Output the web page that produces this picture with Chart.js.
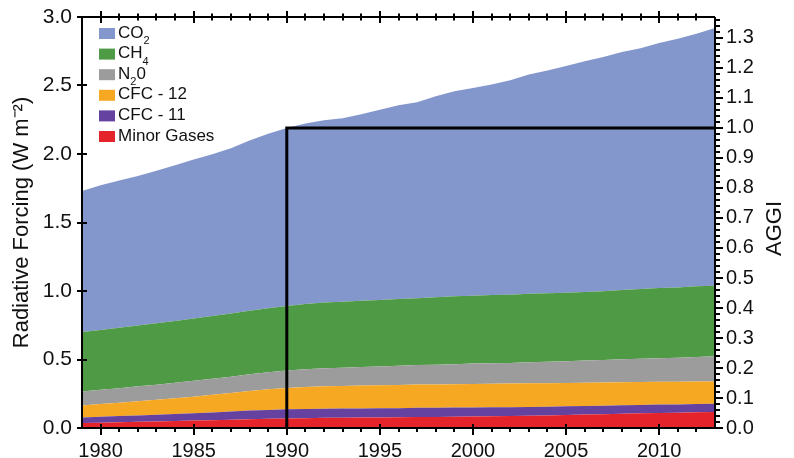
<!DOCTYPE html>
<html><head><meta charset="utf-8">
<script src="https://cdn.jsdelivr.net/npm/chart.js@4/dist/chart.umd.min.js"></script>
<style>html,body{margin:0;padding:0;background:#fff}#wrap{width:794px;height:458px;position:relative}</style>
</head><body><div id="wrap"><canvas id="c" width="794" height="458"></canvas></div>
<script>
// ---- data (W m-2) ----
const years = [1979,1980,1981,1982,1983,1984,1985,1986,1987,1988,1989,1990,1991,1992,1993,1994,1995,1996,1997,1998,1999,2000,2001,2002,2003,2004,2005,2006,2007,2008,2009,2010,2011,2012,2013];
const co2   = [1.030,1.055,1.075,1.090,1.113,1.137,1.160,1.182,1.207,1.242,1.273,1.300,1.318,1.330,1.340,1.362,1.388,1.414,1.430,1.468,1.497,1.515,1.537,1.565,1.600,1.627,1.655,1.684,1.709,1.737,1.758,1.789,1.816,1.844,1.881];
const ch4   = [0.433,0.437,0.441,0.445,0.448,0.451,0.455,0.458,0.461,0.464,0.467,0.470,0.476,0.480,0.481,0.484,0.486,0.487,0.488,0.492,0.495,0.496,0.497,0.498,0.500,0.500,0.500,0.501,0.503,0.506,0.509,0.511,0.513,0.515,0.516];
const n2o   = [0.102,0.104,0.106,0.108,0.110,0.112,0.115,0.117,0.119,0.122,0.125,0.128,0.130,0.132,0.133,0.135,0.137,0.140,0.142,0.144,0.146,0.148,0.150,0.151,0.154,0.156,0.159,0.161,0.164,0.167,0.170,0.173,0.176,0.180,0.183];
const cfc12 = [0.088,0.093,0.098,0.104,0.109,0.115,0.121,0.128,0.135,0.143,0.150,0.156,0.160,0.163,0.165,0.167,0.168,0.169,0.170,0.171,0.171,0.172,0.172,0.172,0.172,0.171,0.170,0.170,0.169,0.168,0.167,0.166,0.165,0.164,0.163];
const cfc11 = [0.041,0.043,0.045,0.047,0.049,0.052,0.054,0.057,0.060,0.063,0.065,0.066,0.067,0.067,0.067,0.067,0.067,0.067,0.067,0.066,0.066,0.066,0.065,0.065,0.064,0.064,0.063,0.063,0.062,0.062,0.061,0.061,0.060,0.060,0.060];
const minor = [0.036,0.039,0.042,0.045,0.048,0.051,0.054,0.057,0.060,0.064,0.067,0.070,0.072,0.074,0.075,0.076,0.077,0.078,0.080,0.081,0.083,0.084,0.086,0.087,0.090,0.092,0.095,0.098,0.101,0.104,0.107,0.110,0.112,0.115,0.117];

const legendNames = [['CO','2'],['CH','4'],['N','2','0'],['CFC - 12'],['CFC - 11'],['Minor Gases']];
const xTickLabels = [1980,1985,1990,1995,2000,2005,2010];
const leftTickLabels = [0,0.5,1.0,1.5,2.0,2.5,3.0];
const aggiTickLabels = [0,0.1,0.2,0.3,0.4,0.5,0.6,0.7,0.8,0.9,1.0,1.1,1.2,1.3];
const rightTitle = 'AGGI';
const baseYear = 1990;
const leftMax = 3.0;

const colors = {co2:'#8397cd', ch4:'#4f9a45', n2o:'#9c9c9c', cfc12:'#f6a823', cfc11:'#6542a0', minor:'#e5232a'};

const baseIdx = years.indexOf(baseYear);
const total1990 = co2[baseIdx]+ch4[baseIdx]+n2o[baseIdx]+cfc12[baseIdx]+cfc11[baseIdx]+minor[baseIdx];
const lastYear = years[years.length-1];

function pts(arr){ return arr.map((v,i)=>({x:years[i], y:v})); }
function area(label, arr, color, fill){
  return {label, data: pts(arr), backgroundColor: color, borderColor: color, borderWidth: 0,
    pointRadius: 0, fill, tension: 0, order: 1, stack: 'gas'};
}

const FONT = "'Liberation Sans', Arial, Helvetica, sans-serif";

const ticksPlugin = {
  id: 'ticksPlugin',
  afterDraw(chart){
    const {ctx, chartArea:a, scales} = chart;
    const x = scales.x, y = scales.y, y1 = scales.y1;
    ctx.save();
    ctx.strokeStyle = '#000';
    ctx.lineWidth = 2;
    // frame
    ctx.beginPath();
    ctx.moveTo(a.left, a.top); ctx.lineTo(a.right, a.top);
    ctx.moveTo(a.left, a.bottom); ctx.lineTo(a.right, a.bottom);
    ctx.moveTo(a.left, a.top); ctx.lineTo(a.left, a.bottom);
    ctx.moveTo(a.right, a.top); ctx.lineTo(a.right, a.bottom);
    ctx.stroke();
    // x ticks
    ctx.beginPath();
    years.forEach(yr=>{
      const px = Math.round(x.getPixelForValue(yr));
      const major = xTickLabels.includes(yr);
      if (yr>x.min && yr<x.max){
        if (major){ ctx.moveTo(px, a.bottom-4); ctx.lineTo(px, a.bottom+7);
                    ctx.moveTo(px, a.top-6); ctx.lineTo(px, a.top+6); }
        else { ctx.moveTo(px, a.bottom); ctx.lineTo(px, a.bottom+4);
               ctx.moveTo(px, a.top-3.5); ctx.lineTo(px, a.top+3.5); }
      }
    });
    // left ticks
    leftTickLabels.forEach(v=>{
      const py = Math.round(y.getPixelForValue(v));
      ctx.moveTo(a.left-5, py); ctx.lineTo(a.left+5, py);
    });
    // right ticks (major 0.1, minor 0.02)
    for (let k=0; k*0.02 <= y1.max+1e-9; k++){
      const v = k*0.02;
      const py = Math.round(y1.getPixelForValue(v));
      const major = (k%5===0);
      ctx.moveTo(a.right, py); ctx.lineTo(a.right + (major?8:5), py);
    }
    ctx.stroke();

    // right axis title, reading bottom-to-top
    ctx.save();
    ctx.translate(a.right + 60, (a.top + a.bottom)/2 + 6);
    ctx.rotate(-Math.PI/2);
    ctx.fillStyle = '#111';
    ctx.font = '22px ' + FONT;
    ctx.textAlign = 'center';
    ctx.textBaseline = 'middle';
    ctx.fillText(rightTitle, 0, 0);
    ctx.restore();

    // legend
    const lx = a.left + 17, ly0 = a.top + 16, dy = 20.6;
    const sets = [colors.co2, colors.ch4, colors.n2o, colors.cfc12, colors.cfc11, colors.minor];
    ctx.textBaseline = 'middle';
    ctx.textAlign = 'left';
    legendNames.forEach((parts,i)=>{
      const cy = ly0 + i*dy;
      ctx.fillStyle = sets[i];
      ctx.fillRect(lx, cy-5, 16, 11);
      ctx.fillStyle = '#111';
      let tx = lx + 19;
      parts.forEach((p,j)=>{
        const sub = (parts.length>1 && j===1);
        ctx.font = (sub? '11px ' : '17px ') + FONT;
        ctx.fillText(p, tx, sub ? cy+8 : cy);
        tx += ctx.measureText(p).width;
      });
    });
    ctx.restore();
  }
};

function noPad(s){ s.paddingTop = 0; s.paddingBottom = 0; }

new Chart(document.getElementById('c'), {
  type: 'line',
  data: {
    datasets: [
      area('Minor Gases', minor, colors.minor, 'origin'),
      area('CFC - 11', cfc11, colors.cfc11, '-1'),
      area('CFC - 12', cfc12, colors.cfc12, '-1'),
      area('N2O', n2o, colors.n2o, '-1'),
      area('CH4', ch4, colors.ch4, '-1'),
      area('CO2', co2, colors.co2, '-1'),
      {label:'AGGI = 1 (1990)', data:[{x:baseYear,y:0},{x:baseYear,y:total1990},{x:lastYear,y:total1990}],
       borderColor:'#000', borderWidth:3, pointRadius:0, fill:false, tension:0, order:0, stack:'ref', borderCapStyle:'butt', borderJoinStyle:'miter'}
    ]
  },
  options: {
    responsive: false, animation: false,
    layout: {padding: {top: 17, left: 0, right: 0, bottom: 0}},
    plugins: {legend: {display: false}, tooltip: {enabled: false}},
    scales: {
      x: {type: 'linear', min: years[0], max: lastYear,
          grid: {display: false, drawTicks: false}, border: {display: false},
          afterBuildTicks: s => { s.ticks = xTickLabels.map(v=>({value:v})); },
          afterFit: s => { s.height = 30; s.paddingLeft = 0; s.paddingRight = 0; },
          ticks: {padding: 11, color: '#111', font: {size: 20, family: FONT}, callback: v => String(v), maxRotation: 0, autoSkip: false}},
      y: {type: 'linear', position: 'left', stacked: true, min: 0, max: leftMax,
          grid: {display: false, drawTicks: false}, border: {display: false},
          afterBuildTicks: s => { s.ticks = leftTickLabels.map(v=>({value:v})); },
          afterFit: s => { s.width = 82; noPad(s); },
          title: {display: true, text: 'Radiative Forcing (W m\u207B\u00B2)', color: '#111', font: {size: 22, family: FONT}, padding: {top: 9, bottom: 0}},
          ticks: {padding: 10, color: '#111', font: {size: 21, family: FONT}, callback: v => Number(v).toFixed(1)}},
      y1: {type: 'linear', position: 'right', min: 0, max: leftMax/total1990,
          grid: {display: false, drawTicks: false}, border: {display: false},
          afterBuildTicks: s => { s.ticks = aggiTickLabels.map(v=>({value:v})); },
          afterFit: s => { s.width = 79; noPad(s); },
          ticks: {padding: 11, color: '#111', font: {size: 20, family: FONT}, callback: v => Number(v).toFixed(1)}}
    }
  },
  plugins: [ticksPlugin]
});
</script></body></html>
